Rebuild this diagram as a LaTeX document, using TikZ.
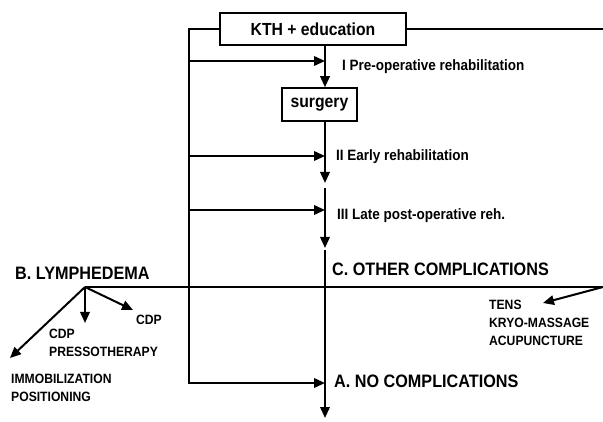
\documentclass[tikz,border=0pt]{standalone}
\usepackage{fontspec}
\setmainfont{Liberation Sans}[FakeStretch=0.9]
\usetikzlibrary{arrows.meta}
\begin{document}
\begin{tikzpicture}[x=1pt,y=-1pt,
 line/.style={line width=2pt},
 arr/.style={line width=2pt,-{Triangle[length=11pt,width=9.5pt]}},
 box/.style={draw,line width=1.5pt,inner sep=0pt,fill=white,font=\bfseries\fontsize{17.5}{20}\selectfont},
 lbl/.style={anchor=base west,inner sep=0pt,font=\bfseries\fontsize{15}{18}\selectfont},
 big/.style={anchor=base west,inner sep=0pt,font=\bfseries\fontsize{18}{20}\selectfont},
 small/.style={anchor=north west,inner sep=0pt,align=left,font=\bfseries\fontsize{13.5}{18}\selectfont}]
\useasboundingbox (0,0) rectangle (603,422);
% boxes
\node[box,minimum width=186pt,minimum height=32pt] (kth) at (313,29) {KTH + education};
\node[box,minimum width=75pt,minimum height=33pt] (surg) at (319.5,104.5) {surgery};
% coordinates
\coordinate (s0) at (325,0);
\coordinate (lt) at (189,29);
\coordinate (lb) at (189,383);
\coordinate (l1) at (189,61);
\coordinate (l2) at (189,156);
\coordinate (l3) at (189,210);
\coordinate (s1) at (325,61);
\coordinate (s2) at (325,156);
\coordinate (s3) at (325,210);
\coordinate (s4) at (325,383);
\coordinate (e2) at (325,183);
\coordinate (b3) at (325,188);
\coordinate (e3) at (325,248);
\coordinate (b4) at (325,250);
\coordinate (e4) at (325,418);
\coordinate (re) at (603,29);
\coordinate (h0) at (85,287);
\coordinate (h1) at (603,287);
\coordinate (ld) at (85,323);
\coordinate (lr) at (133,310);
\coordinate (ll) at (10,358);
\coordinate (te) at (543,303);
% spine
\draw[arr] (kth.south -| s0) -- (surg.north -| s0);
\draw[arr] (surg.south -| s0) -- (e2);
\draw[arr] (b3) -- (e3);
\draw[arr] (b4) -- (e4);
% left loop
\draw[arr] (kth.west) -- (lt) -- (lb) -- (s4);
\draw[arr] (l1) -- (s1);
\draw[arr] (l2) -- (s2);
\draw[arr] (l3) -- (s3);
% right line
\draw[line] (kth.east) -- (re);
% horizontal
\draw[line] (h0) -- (h1);
\draw[arr] (h0) -- (ld);
\draw[arr] (h0) -- (lr);
\draw[arr] (h0) -- (ll);
\draw[arr] (h1) -- (te);
% labels
\node[lbl] (t1) at (342,71) {I Pre-operative rehabilitation};
\node[lbl] (t2) at (336,161) {II Early rehabilitation};
\node[lbl] (t3) at (337,220) {III Late post-operative reh.};
\node[big] (tb) at (15,280) {B. LYMPHEDEMA};
\node[big] (tc) at (332,276) {C. OTHER COMPLICATIONS};
\node[big] (ta) at (334,388) {A. NO COMPLICATIONS};
\node[small] (cdp1) at (136,315) {CDP};
\node[small] (cdp2) at (49,329) {CDP\\PRESSOTHERAPY};
\node[small] (imm) at (11,374) {IMMOBILIZATION\\POSITIONING};
\node[small] (tens) at (489,300) {TENS\\KRYO-MASSAGE\\ACUPUNCTURE};
\end{tikzpicture}
\end{document}
